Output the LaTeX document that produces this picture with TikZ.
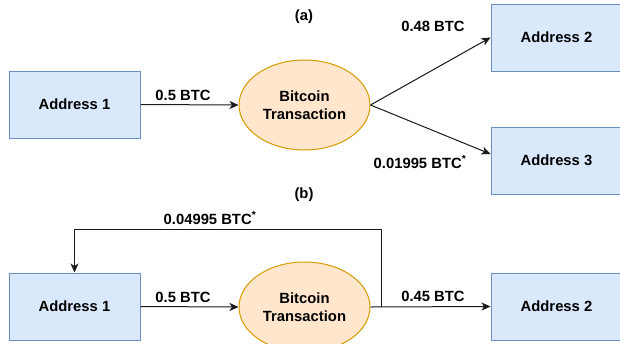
\documentclass[tikz,border=0pt]{standalone}
\usepackage{fontspec}
\setmainfont{Liberation Sans}
\usetikzlibrary{shapes.geometric,arrows.meta}
\definecolor{boxfill}{HTML}{DAE8FC}
\definecolor{boxline}{HTML}{6C8EBF}
\definecolor{elfill}{HTML}{FFE6CC}
\definecolor{elline}{HTML}{D79B00}
\definecolor{linecol}{HTML}{1A1A1A}
\begin{document}
\begin{tikzpicture}[x=1pt,y=-1pt,
  lbl/.style={font=\fontsize{14.8}{17}\selectfont\bfseries, inner sep=0pt},
  addrbox/.style={draw=boxline, fill=boxfill, line width=1pt, minimum width=131pt, minimum height=67pt, inner sep=0pt, font=\fontsize{14.8}{17}\selectfont\bfseries},
  txell/.style={ellipse, draw=elline, fill=elfill, line width=1pt, minimum width=131pt, minimum height=90pt, inner sep=0pt, align=center, font=\fontsize{14.8}{17.5}\selectfont\bfseries},
  arr/.style={draw=linecol, line width=1pt, -{Stealth[length=9pt,width=8pt,inset=2.5pt]}},
  plain/.style={draw=linecol, line width=1pt}]
\useasboundingbox (0,0) rectangle (620,343);
\fill[white] (0,0) rectangle (620,343);
% (a)
\node[lbl] (la) at (304,17) {(a)};
\node[addrbox] (a1) at (74.5,104.5) {Address 1};
\node[txell] (t1) at (304.5,105) {Bitcoin\\Transaction};
\node[addrbox] (a2) at (556.5,37.5) {Address 2};
\node[addrbox] (a3) at (556.5,160.5) {Address 3};
\draw[arr] (a1.east) -- (t1.west);
\draw[arr] (t1.east) -- (a2.west);
\draw[arr] (t1.east) -- ([yshift=6.5pt]a3.west);
\node[lbl] (l1) at (183,95) {0.5 BTC};
\node[lbl] (l2) at (433,26) {0.48 BTC};
\node[lbl] (l3) at (420,162) {0.01995 BTC\textsuperscript{*}};
% (b)
\node[lbl] (lb) at (304,195) {(b)};
\node[addrbox] (b1) at (74.5,306.5) {Address 1};
\node[txell] (t2) at (304.5,307) {Bitcoin\\Transaction};
\node[addrbox] (b2) at (556.5,306.5) {Address 2};
\draw[arr] (b1.east) -- (t2.west);
\draw[arr] (t2.east) -- (b2.west);
\coordinate (br) at (381,307);
\coordinate (up) at (381,229);
\draw[arr] (br) -- (up) -| (b1.north);
\node[lbl] (l4) at (183,297) {0.5 BTC};
\node[lbl] (l5) at (433,296) {0.45 BTC};
\node[lbl] (l6) at (210,218) {0.04995 BTC\textsuperscript{*}};
\end{tikzpicture}
\end{document}
